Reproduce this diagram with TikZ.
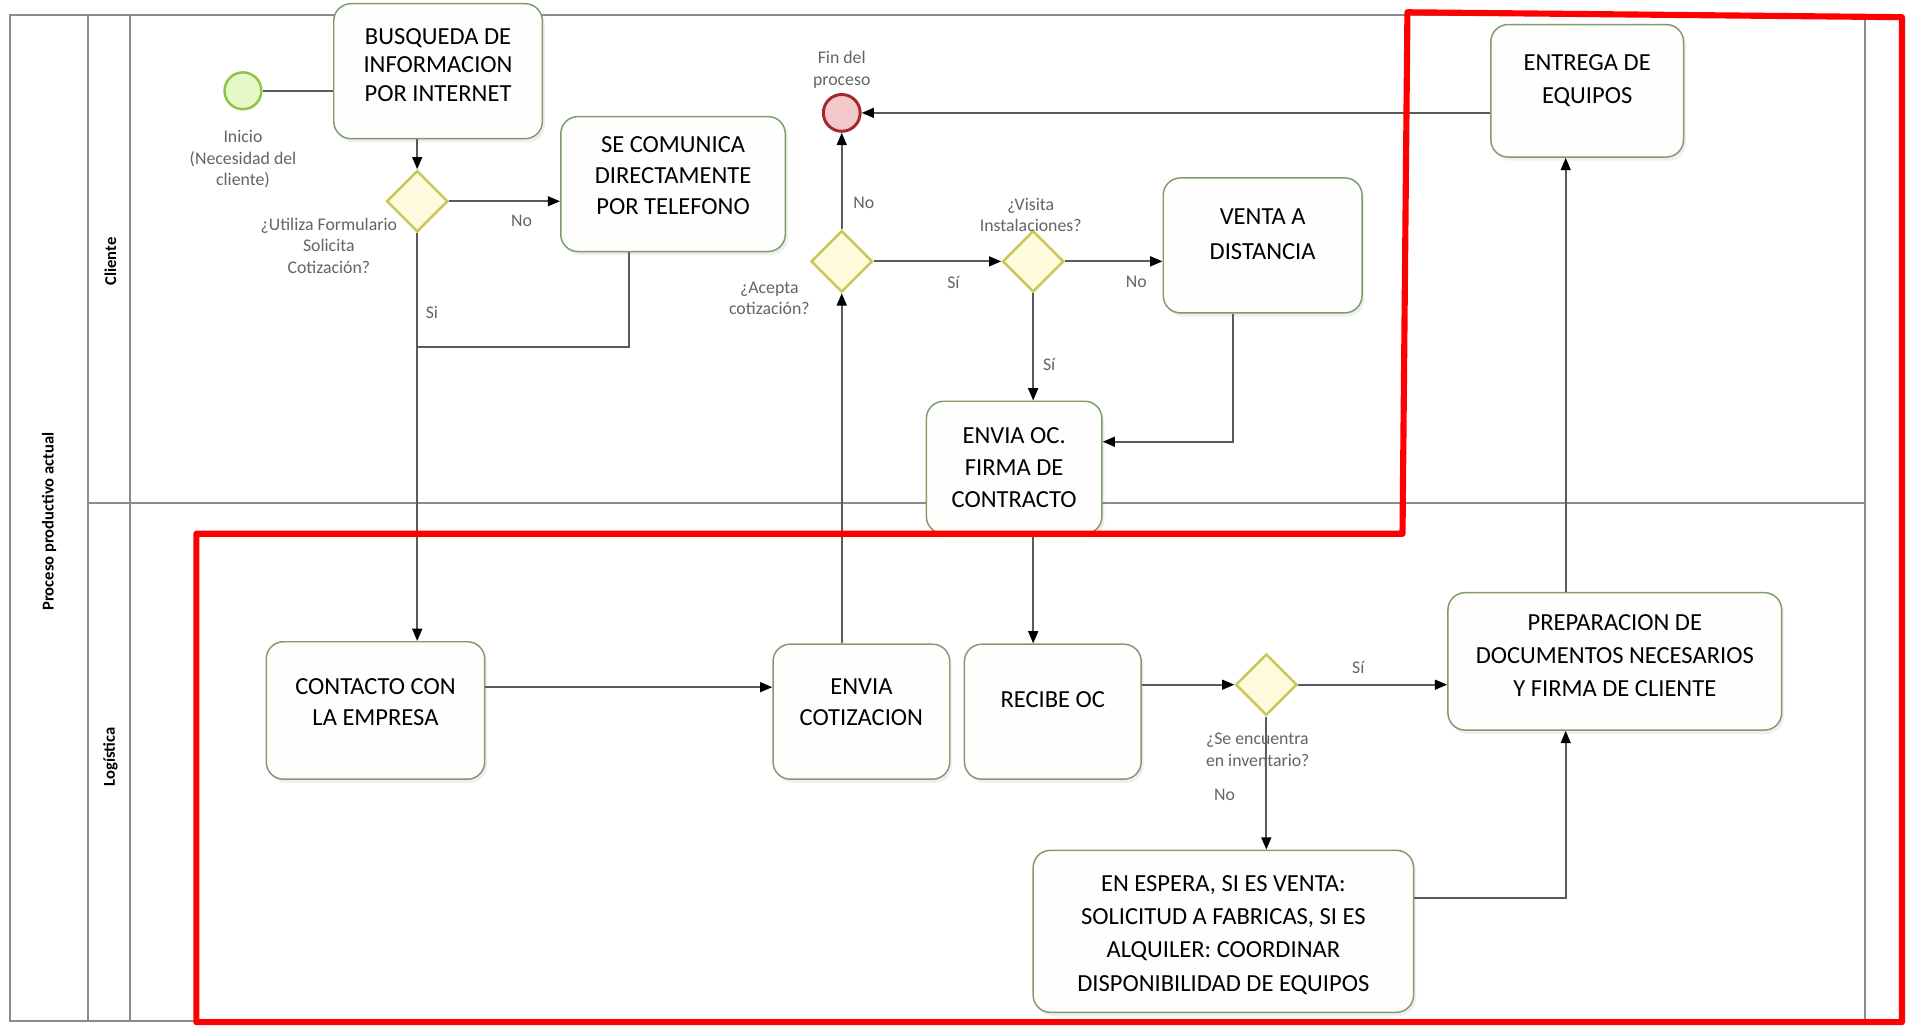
\documentclass[tikz,border=0pt]{standalone}
\usepackage{fontspec}
\setmainfont{Carlito}
\usetikzlibrary{arrows.meta,shapes.geometric,calc,shadows}
\definecolor{poolline}{HTML}{8C8C8C}
\definecolor{boxline}{HTML}{7E9C6E}
\definecolor{boxfill}{HTML}{FEFFFC}
\definecolor{gwline}{HTML}{C9C65A}
\definecolor{gwfill}{HTML}{FDFBDC}
\definecolor{flow}{HTML}{5A5A5A}
\definecolor{lbl}{HTML}{646464}
\definecolor{startfill}{HTML}{E6F7C8}
\definecolor{startline}{HTML}{8CC63F}
\definecolor{endfill}{HTML}{F4C7CB}
\definecolor{endline}{HTML}{A3282E}
\definecolor{redframe}{HTML}{FF0000}
\tikzset{
  pool/.style={draw=poolline, line width=1.6pt},
  task/.style={draw=boxline, fill=boxfill, rounded corners=14pt, line width=1.2pt, inner sep=0pt,
    drop shadow={opacity=0.12, shadow xshift=2pt, shadow yshift=-3pt}},
  tasktext/.style={align=center, font=\fontsize{20}{25}\selectfont, text=black, inner sep=0pt},
  gw/.style={diamond, draw=gwline, fill=gwfill, line width=2pt, minimum width=50pt, minimum height=50pt, inner sep=0pt},
  flowline/.style={draw=flow, line width=1.6pt},
  arr/.style={flowline, -{Triangle[length=10pt,width=8pt,color=black]}},
  lab/.style={text=lbl, font=\fontsize{14.5}{17.5}\selectfont, align=center, inner sep=0pt},
  lanelab/.style={rotate=90, font=\bfseries\fontsize{13.5}{15}\selectfont, inner sep=0pt},
}
\begin{document}
\begin{tikzpicture}[x=1pt,y=-1pt]
\useasboundingbox (0,0) rectangle (1568,836);
\fill[white] (0,0) rectangle (1568,836);
% pool and lanes
\draw[pool] (8,12) rectangle (1520,832);
\draw[pool] (72,12) -- (72,832);
\draw[pool] (106,12) -- (106,832);
\draw[pool] (72,410) -- (1520,410);
\node[lanelab] (poolname) at (40,425) {Proceso productivo actual};
\node[lanelab] (lanecli) at (90,213) {Cliente};
\node[lanelab] (lanelog) at (90,617) {Logística};

% events
\node[circle, draw=startline, fill=startfill, line width=2pt, minimum size=30pt, inner sep=0pt] (start) at (198,74) {};
\node[circle, draw=endline, fill=endfill, line width=2.4pt, minimum size=30pt, inner sep=0pt] (end) at (686,92) {};

% tasks
\node[task, minimum width=170pt, minimum height=110pt] (busq) at (357,58) {};
\node[task, minimum width=183pt, minimum height=110pt] (tel) at (548.5,150) {};
\node[task, minimum width=178pt, minimum height=112pt] (cont) at (306,579) {};
\node[task, minimum width=144pt, minimum height=110pt] (envcot) at (702,580) {};
\node[task, minimum width=162pt, minimum height=110pt] (venta) at (1029,200) {};
\node[task, minimum width=143pt, minimum height=108pt] (envoc) at (826.5,381) {};
\node[task, minimum width=144pt, minimum height=110pt] (recibe) at (858,580) {};
\node[task, minimum width=272pt, minimum height=112pt] (prep) at (1316,539) {};
\node[task, minimum width=310pt, minimum height=132pt] (espera) at (997,759) {};
\node[task, minimum width=157pt, minimum height=108pt] (entrega) at (1293.5,74) {};

\node[tasktext, font=\fontsize{20}{23.5}\selectfont] (busqt) at (357,53) {BUSQUEDA DE\\INFORMACION\\POR INTERNET};
\node[tasktext] (telt) at (548.5,143) {SE COMUNICA\\DIRECTAMENTE\\POR TELEFONO};
\node[tasktext] (contt) at (306,572) {CONTACTO CON\\LA EMPRESA};
\node[tasktext] (envcott) at (702,572) {ENVIA\\COTIZACION};
\node[tasktext, font=\fontsize{20}{29}\selectfont] (ventat) at (1029,191) {VENTA A\\DISTANCIA};
\node[tasktext, font=\fontsize{20}{26}\selectfont] (envoct) at (826.5,381) {ENVIA OC.\\FIRMA DE\\CONTRACTO};
\node[tasktext] (recibet) at (858,570) {RECIBE OC};
\node[tasktext, font=\fontsize{20}{27}\selectfont] (prept) at (1316,534) {PREPARACION DE\\DOCUMENTOS NECESARIOS\\Y FIRMA DE CLIENTE};
\node[tasktext, font=\fontsize{20}{27}\selectfont] (esperat) at (997,762) {EN ESPERA, SI ES VENTA:\\SOLICITUD A FABRICAS, SI ES\\ALQUILER: COORDINAR\\DISPONIBILIDAD DE EQUIPOS};
\node[tasktext, font=\fontsize{20}{27}\selectfont] (entregat) at (1293.5,66) {ENTREGA DE\\EQUIPOS};

% gateways
\node[gw] (g1) at (340,164) {};
\node[gw] (g2) at (686,213) {};
\node[gw] (g3) at (842,213) {};
\node[gw] (g4) at (1032,558) {};

% coordinates
\coordinate (j1) at (340,283);
\coordinate (colR) at (1276,300);

% connectors
\draw[flowline] (start) -- (start -| busq.west);
\draw[arr] (busq.south -| g1) -- (g1.north);
\draw[arr] (g1.east) -- (g1 -| tel.west);
\draw[arr] (g1.south) -- (g1 |- cont.north);
\draw[flowline] ([xshift=-35.5pt]tel.south) |- (j1);
\draw[arr] ([yshift=19pt]cont.east) -- ([yshift=19pt]cont.east -| envcot.west);
\draw[arr] (envcot.north -| g2) -- (g2.south);
\draw[arr] (g2.north) -- (end.south);
\draw[arr] (g2.east) -- (g3.west);
\draw[arr] (g3.east) -- (g3 -| venta.west);
\draw[arr] (g3.south) -- (g3 |- envoc.north);
\draw[arr] ([xshift=-24pt]venta.south) |- ([yshift=21pt]envoc.east);
\draw[arr] (g3 |- envoc.south) -- (g3 |- recibe.north);
\draw[arr] (g4 -| recibe.east) -- (g4.west);
\draw[arr] (g4.east) -- (g4 -| prep.west);
\draw[arr] (g4.south) -- (g4 |- espera.north);
\draw[arr] ([yshift=27pt]espera.east) -| (colR |- prep.south);
\draw[arr] (colR |- prep.north) -- (colR |- entrega.south);
\draw[arr] (entrega.west |- end) -- (end.east);

% labels
\node[lab] (l1) at (198,130) {Inicio\\(Necesidad del\\cliente)};
\node[lab] (l2) at (268,200) {¿Utiliza Formulario\\Solicita\\Cotización?};
\node[lab] (l3) at (425,180) {No};
\node[lab] (l4) at (352,255) {Si};
\node[lab] (l5) at (686,57) {Fin del\\proceso};
\node[lab] (l6) at (704,165) {No};
\node[lab] (l7) at (627,243) {¿Acepta\\cotización?};
\node[lab] (l8) at (777,230) {Sí};
\node[lab] (l9) at (840,175) {¿Visita\\Instalaciones?};
\node[lab] (l10) at (926,230) {No};
\node[lab] (l11) at (855,297) {Sí};
\node[lab] (l12) at (1107,544) {Sí};
\node[lab, align=left] (l13) at (1025,611) {¿Se encuentra\\en inventario?};
\node[lab] (l14) at (998,648) {No};

% red frame
\draw[redframe, line width=5pt, line join=round] (160,435) -- (1143,435) -- (1147,10) -- (1550,14) -- (1550,833) -- (160,833) -- cycle;
\end{tikzpicture}
\end{document}
